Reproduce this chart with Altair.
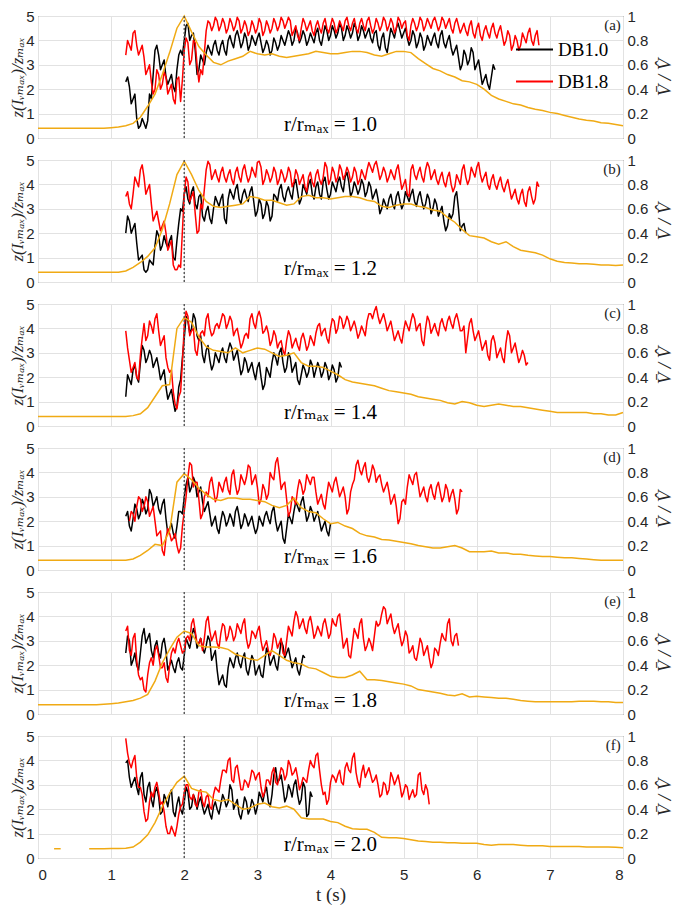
import altair as alt
import numpy as np
import pandas as pd

SERIF = "Liberation Serif, DejaVu Serif, serif"
SANS = "Liberation Sans, Arial, sans-serif"
ORANGE = "#F0AA14"

LETTERS = ["(a)", "(b)", "(c)", "(d)", "(e)", "(f)"]
RATIOS = ["1.0", "1.2", "1.4", "1.6", "1.8", "2.0"]
SERIES = ["DB1.0", "DB1.8"]
X_TICKS = [0, 1, 2, 3, 4, 5, 6, 7, 8]
LEFT_TICKS = [0, 1, 2, 3, 4, 5]
RIGHT_TICKS = [0, 0.2, 0.4, 0.6, 0.8, 1.0]
T_REF = [2.0]
DT = 0.05          # spacing of the main readings
ODT = 0.1          # spacing of the orange readings

BLACK_T0 = [1.20, 1.20, 1.20, 1.20, 1.20, 1.20]
RED_T0 = [1.20, 1.20, 1.20, 1.25, 1.20, 1.20]
ORANGE_T0 = [0.0, 0.0, 0.0, 0.0, 0.0, 0.7]
ORANGE_F_EARLY_T = [0.22, 0.31]
ORANGE_F_EARLY = [0.076, 0.076]

# readings every 0.05 s
BLACK_A = [2.3, 2.1, 1.6, 0.8, 0.5, 0.6, 0.7, 1.6, 3.6, 3.4,
           3.0, 2.5, 2.4, 2.1, 2.8, 3.6, 4.0, 4.7, 4.2, 3.6,
           2.8, 3.2, 3.5, 3.6, 3.8, 3.6, 3.8, 3.6, 4.0, 3.9,
           4.2, 4.1, 3.9, 4.1, 3.8, 4.0, 4.1, 3.9, 3.7, 3.8,
           3.6, 3.9, 3.8, 4.0, 4.1, 4.2, 4.0, 4.3, 4.1, 4.2,
           4.0, 4.1, 4.3, 4.0, 4.2, 4.4, 4.2, 4.4, 4.3, 4.5,
           4.2, 4.4, 4.3, 4.5, 4.2, 4.4, 4.3, 4.1, 4.3, 3.8,
           4.1, 3.7, 4.0, 4.3, 4.5, 4.4, 4.3, 4.1, 4.0, 4.2,
           3.9, 4.1, 3.8, 4.0, 4.1, 3.9, 4.2, 3.9, 4.0, 3.7,
           3.6, 3.3, 3.0, 3.4, 3.2, 3.5, 3.0, 2.7, 2.4, 2.2,
           2.5, 2.8]
RED_A = [3.4, 3.8, 4.3, 3.8, 3.6, 3.3, 2.8, 2.3, 2.0, 2.6,
         2.2, 2.5, 2.0, 1.6, 2.4, 1.5, 3.6, 3.9, 3.2, 3.9,
         2.3, 2.6, 4.4, 4.7, 4.6, 4.8, 4.6, 4.7, 4.5, 4.7,
         4.6, 4.8, 4.5, 4.6, 4.4, 4.6, 4.5, 4.7, 4.4, 4.6,
         4.5, 4.7, 4.6, 4.8, 4.7, 4.8, 4.4, 4.2, 4.5, 4.7,
         4.6, 4.4, 4.6, 4.5, 4.7, 4.5, 4.6, 4.7, 4.5, 4.6,
         4.8, 4.6, 4.7, 4.5, 4.7, 4.6, 4.8, 4.6, 4.5, 4.7,
         4.6, 4.8, 4.6, 4.7, 4.5, 4.8, 4.7, 4.2, 4.6, 4.7,
         4.6, 4.8, 4.6, 4.7, 4.8, 4.7, 4.6, 4.8, 4.7, 4.5,
         4.7, 4.6, 4.5, 4.4, 4.6, 4.3, 4.5, 4.2, 4.4, 4.3,
         4.5, 4.3, 4.4, 4.2, 4.0, 4.2, 3.8, 4.0, 3.8, 4.1,
         4.3, 4.0, 4.2, 3.8]
BLACK_B = [2.0, 2.5, 2.2, 1.6, 1.0, 0.5, 0.5, 0.8, 1.5, 1.9,
           1.5, 1.6, 1.7, 1.0, 1.7, 3.0, 3.6, 3.4, 3.7, 3.2,
           3.5, 2.7, 2.9, 2.6, 3.0, 3.3, 3.4, 2.6, 3.4, 3.6,
           3.8, 3.4, 3.6, 3.5, 3.7, 3.3, 2.9, 3.2, 2.8, 3.1,
           2.7, 3.5, 3.8, 3.5, 3.7, 3.6, 4.0, 3.7, 3.4, 3.8,
           4.0, 3.6, 3.9, 3.6, 4.1, 3.8, 3.6, 3.9, 4.1, 3.9,
           4.3, 4.1, 3.7, 3.9, 3.8, 4.0, 3.7, 3.9, 3.6, 3.4,
           3.0, 3.2, 3.4, 3.2, 3.5, 3.3, 3.2, 3.5, 3.6, 3.3,
           3.5, 3.3, 3.2, 3.4, 3.0, 3.2, 2.9, 2.5, 2.3, 2.6,
           3.5, 3.0, 2.3, 2.0]
RED_B = [3.5, 3.2, 3.6, 4.1, 4.6, 4.3, 3.8, 3.2, 2.7, 2.5,
         2.3, 2.0, 1.5, 0.7, 0.5, 0.6, 3.6, 4.1, 3.5, 2.8,
         2.1, 3.0, 4.6, 4.8, 4.4, 4.3, 4.5, 4.3, 4.4, 4.2,
         4.5, 4.3, 4.6, 4.4, 4.3, 4.5, 4.9, 4.7, 4.2, 4.4,
         4.3, 4.5, 4.2, 4.4, 4.3, 4.5, 4.1, 4.4, 4.2, 3.9,
         4.3, 4.1, 4.4, 4.2, 4.3, 4.7, 4.2, 4.5, 4.3, 4.6,
         4.4, 4.5, 4.3, 4.5, 4.2, 4.4, 4.6, 4.7, 4.8, 4.6,
         4.4, 4.5, 4.3, 4.4, 4.6, 4.3, 4.0, 3.6, 4.6, 4.4,
         4.5, 4.3, 4.6, 4.7, 4.4, 4.2, 4.3, 4.1, 4.3, 4.0,
         3.9, 4.2, 4.6, 4.3, 4.2, 4.5, 4.7, 4.4, 4.3, 4.0,
         4.2, 4.0, 4.1, 3.9, 4.0, 3.8, 3.6, 3.4, 3.6, 3.3,
         3.7, 3.5, 3.4, 3.9]
BLACK_C = [1.2, 1.9, 2.3, 2.0, 2.6, 3.1, 2.8, 2.9, 2.6, 2.4,
           2.1, 1.6, 1.3, 1.0, 0.8, 1.9, 3.6, 4.3, 4.0, 4.4,
           3.5, 2.9, 3.1, 2.7, 2.5, 2.8, 3.0, 2.8, 3.1, 3.2,
           2.9, 2.6, 2.3, 2.6, 2.4, 2.2, 2.4, 2.0, 1.7, 2.2,
           2.6, 2.8, 3.0, 2.6, 2.4, 2.8, 2.4, 1.9, 2.1, 2.3,
           2.2, 2.5, 2.3, 2.4, 2.2, 2.4, 2.1, 2.3, 2.0, 2.4]
RED_C = [3.9, 2.7, 2.4, 2.0, 2.9, 4.2, 3.7, 4.1, 4.4, 3.9,
         3.5, 2.8, 2.2, 1.4, 0.7, 1.4, 4.1, 4.5, 3.9, 3.1,
         3.5, 3.9, 4.4, 4.0, 3.8, 4.2, 4.3, 4.5, 4.2, 4.3,
         3.9, 3.6, 3.4, 3.8, 4.4, 4.2, 4.5, 4.4, 3.9, 3.8,
         3.5, 3.7, 3.4, 3.1, 3.5, 3.7, 3.4, 3.3, 3.6, 3.5,
         3.3, 3.5, 3.8, 4.2, 3.9, 3.6, 4.0, 4.3, 4.0, 4.4,
         4.2, 4.3, 4.1, 4.0, 3.8, 3.9, 4.3, 4.6, 4.7, 4.5,
         4.4, 4.3, 4.1, 3.9, 3.7, 3.6, 3.9, 4.1, 4.3, 4.4,
         4.1, 3.5, 4.0, 4.3, 4.0, 3.9, 4.2, 4.1, 4.3, 4.2,
         4.4, 4.3, 3.9, 3.0, 4.2, 3.9, 3.7, 3.5, 3.3, 2.9,
         3.5, 3.4, 3.0, 2.8, 3.4, 3.7, 3.2, 3.0, 2.8, 2.9,
         2.6]
BLACK_D = [2.2, 1.8, 2.1, 2.5, 2.3, 2.7, 2.5, 3.1, 2.8, 2.5,
           2.7, 2.1, 1.7, 1.5, 1.8, 2.4, 3.0, 3.8, 3.4, 3.6,
           3.2, 2.8, 2.6, 2.3, 2.0, 1.7, 2.0, 2.2, 2.0, 2.1,
           2.4, 2.2, 1.9, 2.1, 2.0, 1.8, 1.7, 2.0, 2.2, 2.1,
           2.4, 2.0, 1.8, 1.3, 1.7, 2.1, 2.4, 2.6, 2.8, 2.5,
           2.2, 2.4, 2.2, 2.0, 1.8, 1.6, 1.9]
RED_D = [2.0, 2.3, 2.6, 2.9, 2.6, 2.8, 2.4, 2.0, 1.5,
         0.8, 1.3, 1.5, 1.3, 1.0, 0.9, 2.4, 3.8, 4.3, 3.6,
         2.9, 2.3, 3.2, 3.6, 3.3, 3.0, 3.4, 3.6, 3.3, 3.9,
         3.5, 3.3, 3.7, 3.8, 4.2, 3.7, 3.4, 2.9, 3.3, 3.1,
         3.8, 4.4, 4.0, 3.5, 2.9, 2.4, 2.9, 3.3, 3.5, 3.3,
         3.7, 3.8, 3.2, 2.9, 2.7, 3.1, 3.4, 3.6, 3.4, 3.2,
         3.0, 2.5, 3.5, 4.3, 4.1, 4.2, 3.8, 3.9, 4.1, 3.8,
         3.5, 3.4, 3.2, 2.9, 2.6, 2.1, 2.9, 3.4, 3.7, 3.9,
         3.5, 3.2, 3.0, 3.3, 3.1, 3.4, 3.2, 3.0, 3.3, 3.1,
         2.9, 2.5, 3.2]
BLACK_E = [2.5, 3.0, 2.2, 2.0, 2.5, 3.5, 3.1, 2.6, 2.8, 2.5,
           2.9, 2.6, 2.0, 1.9, 2.1, 1.9, 2.4, 2.9, 3.1, 3.3,
           2.9, 2.7, 2.8, 3.0, 2.4, 1.8, 1.4, 1.2, 1.9, 2.1,
           2.3, 2.1, 2.3, 1.8, 2.0, 2.2, 1.8, 1.6, 2.1, 2.5,
           2.2, 2.0, 2.4, 2.8, 2.5, 2.3, 2.1, 1.8, 2.0, 2.3]
RED_E = [3.4, 2.6, 3.1, 2.2, 1.4, 1.0, 1.6, 2.3, 2.6, 2.4,
         1.9, 1.5, 2.0, 2.7, 2.9, 2.8, 2.6, 3.2, 3.7, 3.4,
         2.9, 2.6, 3.8, 3.4, 3.2, 2.9, 3.3, 3.6, 3.2, 3.4,
         3.2, 3.5, 3.7, 3.1, 2.9, 3.3, 3.4, 3.0, 2.8, 2.6,
         2.7, 3.1, 2.9, 2.5, 3.0, 3.4, 3.8, 4.0, 3.7, 3.5,
         3.8, 3.6, 3.3, 3.4, 3.7, 3.5, 3.3, 3.7, 4.0, 3.4,
         2.9, 2.4, 2.9, 3.3, 3.7, 3.1, 2.8, 2.9, 3.2, 3.6,
         4.1, 4.3, 3.9, 3.6, 3.5, 3.2, 3.0, 3.2, 2.6, 2.3,
         2.6, 2.9, 2.6, 2.3, 2.1, 2.6, 2.9, 3.1, 3.7, 3.0,
         3.2, 2.8]
BLACK_F = [3.9, 3.3, 3.1, 2.9, 3.3, 2.6, 2.9, 2.4, 2.7, 2.5,
           1.9, 2.4, 2.6, 1.9, 2.2, 2.0, 2.3, 2.7, 2.1, 2.4,
           2.3, 2.1, 2.0, 1.8, 2.1, 2.0, 2.2, 2.4, 2.3, 2.8,
           2.2, 1.8, 2.0, 2.3, 2.0, 2.2, 2.1, 2.5, 2.7, 2.3,
           2.6, 3.7, 3.2, 2.9, 2.5, 2.8, 3.0, 2.6, 2.4, 2.9,
           1.8, 2.5]
RED_F = [4.9, 3.9, 4.0, 3.3, 2.9, 1.9, 1.6, 2.7, 2.9, 2.7,
         2.3, 1.3, 1.0, 1.1, 1.3, 2.1, 2.7, 3.0, 2.4, 2.2,
         2.7, 2.3, 2.5, 2.1, 2.6, 2.8, 3.2, 3.6, 4.0, 3.2,
         3.7, 3.3, 2.8, 3.1, 3.2, 3.5, 3.4, 2.9, 2.7, 3.2,
         3.5, 3.1, 3.3, 3.6, 3.4, 3.8, 3.5, 3.3, 3.0, 3.2,
         3.6, 3.8, 4.2, 3.6, 2.6, 2.2, 3.1, 3.3, 3.4, 3.1,
         3.7, 3.6, 4.1, 3.5, 2.9, 3.8, 3.5, 3.4, 3.2, 3.0,
         2.6, 3.0, 2.8, 3.3, 3.2, 3.0, 2.7, 2.9, 2.6, 2.5,
         3.4, 2.8, 3.0, 2.2]

# readings half way between the ones above (the fast flicker of each trace)
BLACK_A_MID = [2.5, 1.4, 1.8, 0.4, 0.8, 0.4, 1.8, 2.6, 3.8, 2.8,
               3.2, 2.2, 2.6, 1.9, 3.4, 3.4, 4.6, 4.0, 4.3, 2.6,
               3.4, 3.0, 3.8, 3.4, 4.0, 3.4, 4.0, 3.4, 4.2, 3.7,
               4.4, 3.7, 4.3, 3.6, 4.2, 3.8, 4.3, 3.5, 4.0, 3.4,
               4.1, 3.6, 4.2, 3.8, 4.4, 3.8, 4.5, 3.9, 4.4, 3.8,
               4.3, 3.9, 4.5, 3.8, 4.6, 4.0, 4.6, 4.1, 4.7, 4.0,
               4.6, 4.1, 4.7, 4.0, 4.6, 4.1, 4.5, 3.9, 4.4, 3.6,
               4.3, 3.5, 4.5, 4.1, 4.7, 4.1, 4.5, 3.8, 4.4, 3.7,
               4.3, 3.6, 4.2, 3.8, 4.3, 3.7, 4.4, 3.7, 4.2, 3.4,
               3.8, 2.8, 3.6, 3.0, 3.7, 2.8, 3.2, 2.2, 2.6, 2.0,
               3.0]
RED_A_MID = [4.0, 3.6, 4.4, 3.4, 3.8, 2.6, 3.0, 1.8, 2.8, 2.0,
             2.7, 1.8, 2.2, 1.4, 2.5, 2.4, 4.1, 3.0, 4.0, 3.0,
             2.8, 3.5, 4.8, 4.4, 4.95, 4.4, 4.9, 4.3, 4.9, 4.4,
             4.95, 4.3, 4.8, 4.2, 4.8, 4.3, 4.9, 4.2, 4.8, 4.3,
             4.9, 4.4, 4.95, 4.5, 4.95, 4.2, 4.6, 4.0, 4.9, 4.4,
             4.8, 4.2, 4.8, 4.3, 4.9, 4.3, 4.9, 4.3, 4.8, 4.4,
             4.95, 4.4, 4.9, 4.3, 4.9, 4.4, 4.95, 4.3, 4.9, 4.4,
             4.95, 4.4, 4.9, 4.3, 4.95, 4.5, 4.8, 4.0, 4.9, 4.4,
             4.95, 4.4, 4.9, 4.5, 4.95, 4.4, 4.95, 4.5, 4.9, 4.3,
             4.9, 4.3, 4.7, 4.2, 4.8, 4.1, 4.7, 4.0, 4.6, 4.1,
             4.7, 4.1, 4.6, 3.8, 4.4, 3.6, 4.2, 3.6, 4.3, 3.9,
             4.5, 3.8, 4.4]
BLACK_B_MID = [2.7, 2.0, 2.4, 0.9, 1.1, 0.4, 0.9, 0.7, 2.1, 1.3,
               1.9, 1.4, 1.9, 0.9, 2.4, 2.9, 3.9, 3.2, 3.9, 3.0,
               3.6, 2.5, 3.1, 2.4, 3.5, 3.1, 3.6, 2.4, 3.8, 3.4,
               4.0, 3.2, 3.8, 3.3, 3.9, 2.7, 3.4, 2.6, 3.3, 2.5,
               3.6, 3.3, 4.0, 3.3, 3.9, 3.4, 4.2, 3.2, 4.0, 3.6,
               4.2, 3.4, 4.1, 3.4, 4.3, 3.4, 4.1, 3.7, 4.3, 3.7,
               4.5, 3.5, 4.1, 3.6, 4.2, 3.5, 4.1, 3.4, 3.8, 2.8,
               3.4, 3.0, 3.6, 3.0, 3.7, 3.0, 3.7, 3.3, 3.8, 3.1,
               3.7, 3.0, 3.6, 2.8, 3.4, 2.7, 3.1, 2.1, 2.8, 2.8,
               3.7, 2.1, 2.4]
RED_B_MID = [3.7, 3.0, 4.3, 3.9, 4.8, 3.6, 4.0, 2.5, 2.9, 2.1,
             2.5, 1.3, 1.7, 0.5, 0.7, 2.1, 4.3, 3.3, 3.7, 2.0,
             3.2, 3.8, 4.95, 4.2, 4.6, 4.1, 4.7, 4.1, 4.6, 4.0,
             4.7, 4.1, 4.8, 4.1, 4.7, 4.3, 4.95, 4.0, 4.6, 4.1,
             4.7, 4.0, 4.6, 4.1, 4.7, 3.9, 4.6, 4.0, 4.4, 3.7,
             4.5, 3.9, 4.6, 4.0, 4.9, 4.0, 4.7, 4.1, 4.8, 4.2,
             4.7, 4.1, 4.7, 4.0, 4.6, 4.2, 4.9, 4.5, 4.95, 4.2,
             4.7, 4.1, 4.6, 4.2, 4.8, 3.8, 4.2, 3.5, 4.8, 4.2,
             4.7, 4.1, 4.9, 4.2, 4.6, 4.0, 4.5, 3.9, 4.5, 3.7,
             4.4, 4.0, 4.8, 4.0, 4.7, 4.3, 4.9, 4.1, 4.5, 3.8,
             4.4, 3.8, 4.3, 3.7, 4.2, 3.4, 3.8, 3.2, 3.8, 3.1,
             3.9, 3.2, 4.1]
BLACK_C_MID = [2.1, 1.7, 2.5, 1.8, 3.3, 2.6, 3.1, 2.4, 2.8, 1.9,
               2.3, 1.1, 1.5, 0.6, 1.6, 2.8, 4.5, 3.8, 4.6, 3.7,
               3.7, 2.6, 3.3, 2.3, 3.0, 2.6, 3.2, 2.6, 3.4, 2.7,
               3.1, 2.1, 2.8, 2.2, 2.6, 1.9, 2.6, 1.5, 2.4, 2.0,
               3.0, 2.5, 3.2, 2.2, 3.0, 2.2, 2.6, 1.7, 2.5, 2.0,
               2.7, 2.0, 2.6, 2.0, 2.6, 1.9, 2.5, 1.8, 2.6]
RED_C_MID = [3.2, 2.2, 2.6, 1.9, 3.6, 3.5, 4.3, 3.8, 4.6, 3.3,
             3.7, 2.4, 2.3, 0.9, 1.2, 2.6, 4.7, 3.7, 4.0, 2.9,
             3.8, 3.7, 4.6, 3.7, 4.1, 4.0, 4.6, 4.0, 4.5, 3.7,
             4.0, 3.2, 3.7, 3.6, 4.6, 4.0, 4.7, 3.8, 4.1, 3.3,
             3.9, 3.2, 3.5, 2.9, 3.9, 3.2, 3.6, 3.1, 3.8, 3.1,
             3.7, 3.3, 4.1, 3.7, 4.0, 3.4, 4.4, 3.8, 4.5, 4.0,
             4.5, 3.9, 4.3, 3.6, 4.1, 3.7, 4.6, 4.4, 4.9, 4.2,
             4.6, 3.9, 4.3, 3.5, 3.9, 3.4, 4.3, 3.9, 4.6, 3.9,
             4.2, 3.3, 4.5, 3.8, 4.2, 3.7, 4.4, 3.9, 4.5, 4.0,
             4.6, 3.9, 4.1, 3.6, 4.4, 3.5, 3.9, 3.1, 3.5, 2.7,
             3.7, 2.8, 3.2, 2.6, 3.9, 3.0, 3.4, 2.6, 3.1, 2.5]
BLACK_D_MID = [2.4, 1.6, 2.7, 2.1, 2.9, 2.3, 3.3, 2.6, 3.0, 2.3,
               2.9, 1.5, 1.9, 1.3, 2.4, 2.3, 3.5, 3.2, 3.8, 3.0,
               3.4, 2.4, 2.8, 1.8, 2.2, 1.5, 2.4, 1.8, 2.3, 1.8,
               2.6, 1.7, 2.3, 1.8, 2.2, 1.5, 2.2, 1.8, 2.4, 1.9,
               2.6, 1.6, 2.0, 1.1, 2.3, 1.9, 2.8, 2.4, 3.0, 2.0,
               2.6, 2.0, 2.4, 1.6, 2.0, 1.4]
RED_D_MID = [2.4, 2.0, 3.0, 2.4, 3.0, 2.2, 2.6, 1.4, 1.6, 0.6,
             1.7, 1.2, 1.5, 0.7, 1.8, 3.0, 4.4, 3.4, 3.6, 2.1,
             3.0, 3.0, 3.8, 2.8, 3.6, 3.2, 3.8, 3.1, 4.1, 3.1,
             3.9, 3.5, 4.3, 3.5, 3.9, 2.7, 3.5, 2.9, 4.0, 3.7,
             4.6, 3.3, 3.6, 2.2, 3.0, 2.7, 3.7, 3.1, 3.9, 3.5,
             3.8, 2.7, 3.1, 2.5, 3.6, 3.2, 3.8, 3.0, 3.4, 2.3,
             3.2, 3.7, 4.5, 3.9, 4.4, 3.6, 4.3, 3.6, 3.9, 3.2,
             3.6, 2.7, 3.1, 1.9, 2.8, 2.7, 3.9, 3.5, 4.0, 3.0,
             3.4, 2.8, 3.5, 2.9, 3.6, 2.8, 3.5, 2.8, 3.3, 2.3,
             3.3]
BLACK_E_MID = [3.2, 2.0, 2.5, 1.8, 3.2, 2.9, 3.3, 2.3, 3.0, 2.3,
               3.1, 1.8, 2.2, 1.7, 2.3, 1.8, 3.1, 2.7, 3.5, 2.7,
               3.1, 2.5, 3.2, 2.2, 2.6, 1.2, 1.6, 1.1, 2.3, 1.9,
               2.5, 1.9, 2.5, 1.6, 2.4, 1.6, 2.0, 1.5, 2.7, 2.0,
               2.4, 1.8, 3.0, 2.3, 2.7, 1.9, 2.3, 1.6, 2.4]
RED_E_MID = [3.6, 2.4, 3.3, 1.6, 1.5, 0.9, 2.1, 2.0, 2.8, 1.9,
             2.1, 1.3, 2.5, 2.5, 3.1, 2.5, 3.1, 3.0, 3.9, 2.9,
             3.1, 3.1, 4.0, 3.0, 3.4, 2.7, 3.7, 3.0, 3.6, 3.0,
             3.7, 3.3, 3.9, 2.7, 3.4, 3.1, 3.6, 2.6, 3.0, 2.4,
             3.3, 2.7, 3.1, 2.4, 3.6, 3.2, 4.2, 3.5, 3.9, 3.3,
             4.0, 3.1, 3.6, 3.2, 3.9, 3.1, 3.9, 3.6, 4.1, 2.7,
             3.1, 2.3, 3.5, 3.1, 3.9, 2.6, 3.1, 2.6, 3.8, 3.7,
             4.4, 3.7, 4.1, 3.3, 3.7, 2.8, 3.4, 2.5, 2.8, 2.2,
             3.1, 2.4, 2.8, 1.9, 2.7, 2.4, 3.3, 3.0, 3.9, 2.8,
             3.3]
BLACK_F_MID = [4.0, 2.9, 3.3, 2.6, 3.5, 2.3, 3.1, 2.1, 2.9, 1.8,
               2.6, 2.1, 2.8, 1.7, 2.5, 1.8, 2.9, 2.0, 2.6, 2.0,
               2.5, 1.8, 2.2, 1.6, 2.3, 1.8, 2.6, 2.1, 3.0, 2.0,
               2.4, 1.6, 2.5, 1.8, 2.4, 1.8, 2.7, 2.3, 2.9, 2.1,
               3.4, 3.1, 3.4, 2.3, 3.0, 2.5, 3.2, 2.2, 3.1, 1.7,
               2.7]
RED_F_MID = [4.3, 3.7, 4.2, 2.9, 2.6, 1.5, 2.3, 2.5, 3.1, 2.2,
             1.9, 1.0, 1.3, 0.9, 1.8, 2.2, 3.0, 2.5, 2.6, 2.1,
             2.8, 2.1, 2.6, 2.0, 2.9, 2.7, 3.6, 3.5, 4.1, 3.1,
             3.8, 2.8, 3.2, 2.9, 3.6, 3.2, 3.5, 2.5, 3.2, 3.0,
             3.7, 3.0, 3.7, 3.2, 4.0, 3.4, 3.7, 2.8, 3.3, 3.1,
             4.0, 3.7, 4.3, 3.0, 2.7, 2.4, 3.4, 3.1, 3.6, 3.0,
             3.9, 3.5, 4.3, 3.1, 3.5, 3.3, 3.7, 3.1, 3.4, 2.5,
             3.1, 2.6, 3.5, 3.0, 3.4, 2.5, 3.0, 2.4, 2.8, 2.6,
             3.5, 2.6, 2.8]

ORANGE_A = [0.08, 0.08, 0.08, 0.08, 0.08, 0.08, 0.08, 0.08, 0.08, 0.08, 0.085,
            0.09, 0.10, 0.12, 0.17, 0.26, 0.36, 0.52, 0.70, 0.90, 1.00,
            0.87, 0.75, 0.68, 0.62, 0.60, 0.63, 0.65, 0.67, 0.71, 0.69,
            0.68, 0.69, 0.67, 0.66, 0.67, 0.68, 0.69, 0.71, 0.70, 0.69,
            0.69, 0.70, 0.71, 0.71, 0.70, 0.68, 0.67, 0.69, 0.71, 0.71,
            0.70, 0.65, 0.61, 0.57, 0.55, 0.52, 0.50, 0.47, 0.46, 0.44,
            0.40, 0.35, 0.32, 0.30, 0.28, 0.27, 0.25, 0.235, 0.225, 0.21,
            0.20, 0.185, 0.17, 0.155, 0.145, 0.14, 0.125, 0.12, 0.11, 0.10]
ORANGE_B = [0.08, 0.08, 0.08, 0.08, 0.08, 0.08, 0.08, 0.08, 0.08, 0.08, 0.08, 0.08,
            0.09, 0.12, 0.16, 0.21, 0.28, 0.43, 0.64, 0.88, 0.99,
            0.88, 0.75, 0.66, 0.62, 0.61, 0.62, 0.63, 0.64, 0.70, 0.69,
            0.67, 0.67, 0.65, 0.63, 0.64, 0.70, 0.71, 0.69, 0.69, 0.68,
            0.69, 0.70, 0.70, 0.69, 0.67, 0.66, 0.62, 0.61, 0.63, 0.64,
            0.64, 0.62, 0.61, 0.59, 0.58, 0.53, 0.49, 0.43, 0.38, 0.37,
            0.36, 0.33, 0.31, 0.33, 0.29, 0.26, 0.25, 0.24, 0.22, 0.19,
            0.17, 0.16, 0.155, 0.15, 0.15, 0.145, 0.14, 0.14, 0.135, 0.14]
ORANGE_C = [0.077, 0.077, 0.077, 0.077, 0.077, 0.077, 0.077, 0.077, 0.077, 0.077, 0.077, 0.077, 0.077,
            0.085, 0.10, 0.15, 0.24, 0.33, 0.34, 0.80, 0.89,
            0.85, 0.73, 0.65, 0.62, 0.61, 0.60, 0.64, 0.60, 0.62, 0.64,
            0.63, 0.60, 0.57, 0.58, 0.60, 0.52, 0.49, 0.49, 0.48, 0.45,
            0.42, 0.38, 0.36, 0.35, 0.34, 0.33, 0.31, 0.29, 0.28, 0.27,
            0.26, 0.24, 0.23, 0.22, 0.21, 0.19, 0.18, 0.20, 0.19, 0.17,
            0.16, 0.17, 0.18, 0.17, 0.16, 0.16, 0.15, 0.14, 0.13, 0.12,
            0.11, 0.11, 0.11, 0.11, 0.11, 0.10, 0.10, 0.09, 0.09, 0.11]
ORANGE_D = [0.08, 0.08, 0.08, 0.08, 0.08, 0.08, 0.08, 0.08, 0.08, 0.08, 0.08, 0.08, 0.08,
            0.09, 0.12, 0.16, 0.21, 0.20, 0.32, 0.72, 0.79,
            0.74, 0.67, 0.62, 0.58, 0.57, 0.59, 0.59, 0.58, 0.58, 0.57,
            0.56, 0.53, 0.51, 0.53, 0.59, 0.51, 0.48, 0.47, 0.42, 0.38,
            0.39, 0.36, 0.34, 0.30, 0.28, 0.27, 0.25, 0.245, 0.235, 0.225,
            0.215, 0.20, 0.19, 0.18, 0.18, 0.19, 0.20, 0.18, 0.15, 0.15,
            0.15, 0.155, 0.14, 0.14, 0.13, 0.13, 0.12, 0.115, 0.11, 0.11,
            0.105, 0.10, 0.10, 0.095, 0.09, 0.085, 0.08, 0.08, 0.08, 0.08]
ORANGE_E = [0.076, 0.076, 0.076, 0.076, 0.076, 0.076, 0.076, 0.076, 0.076,
            0.08, 0.085, 0.09, 0.10, 0.11, 0.13, 0.16, 0.27, 0.42, 0.53, 0.63, 0.68,
            0.66, 0.56, 0.55, 0.55, 0.545, 0.53, 0.49, 0.47, 0.45, 0.44,
            0.48, 0.52, 0.48, 0.44, 0.42, 0.41, 0.38, 0.37, 0.34, 0.31,
            0.30, 0.30, 0.32, 0.35, 0.28, 0.28, 0.275, 0.265, 0.255, 0.245,
            0.23, 0.20, 0.19, 0.18, 0.17, 0.155, 0.15, 0.165, 0.14, 0.145,
            0.14, 0.135, 0.13, 0.13, 0.12, 0.11, 0.105, 0.10, 0.10, 0.10,
            0.10, 0.10, 0.10, 0.105, 0.105, 0.105, 0.10, 0.10, 0.095, 0.095]
ORANGE_F = [0.076, 0.076, 0.076, 0.078,
            0.078, 0.08, 0.09, 0.13, 0.19, 0.29, 0.42, 0.53, 0.62, 0.67,
            0.57, 0.55, 0.54, 0.48, 0.465, 0.48, 0.44, 0.40, 0.41, 0.44,
            0.45, 0.42, 0.41, 0.425, 0.40, 0.33, 0.32, 0.32, 0.32, 0.30,
            0.29, 0.26, 0.24, 0.235, 0.235, 0.21, 0.17, 0.165, 0.165, 0.16,
            0.15, 0.14, 0.135, 0.13, 0.13, 0.125, 0.125, 0.12, 0.12, 0.12,
            0.11, 0.105, 0.11, 0.11, 0.11, 0.105, 0.10, 0.10, 0.10, 0.095,
            0.095, 0.095, 0.095, 0.095, 0.09, 0.09, 0.09, 0.09, 0.088, 0.085]

BLACK = [BLACK_A, BLACK_B, BLACK_C, BLACK_D, BLACK_E, BLACK_F]
RED = [RED_A, RED_B, RED_C, RED_D, RED_E, RED_F]
BLACK_MID = [BLACK_A_MID, BLACK_B_MID, BLACK_C_MID, BLACK_D_MID, BLACK_E_MID, BLACK_F_MID]
RED_MID = [RED_A_MID, RED_B_MID, RED_C_MID, RED_D_MID, RED_E_MID, RED_F_MID]
ORANGES = [ORANGE_A, ORANGE_B, ORANGE_C, ORANGE_D, ORANGE_E, ORANGE_F]

# annotation anchors (in data units)
LABEL_T, LABEL_V = 4.0, 0.55
LETTER_T, LETTER_V = 7.97, 4.62

LEFT_TITLE = "z(Iᵥₘₐₓ)/zₘₐₓ"
RIGHT_TITLE = "V\u0304 / V\u0302"

W, H = 585, 122


def series_df(vals, mids, t0, name):
    ts, vs = [], []
    n = len(vals)
    for k in range(n):
        ts.append(t0 + DT * k)
        vs.append(vals[k])
        if k < n - 1 and k < len(mids):
            ts.append(t0 + DT * k + DT / 2)
            vs.append(mids[k])
    return pd.DataFrame({"t": np.round(ts, 4), "v": vs, "series": name})


def orange_df(i):
    vals = ORANGES[i]
    t = np.round(ORANGE_T0[i] + ODT * np.arange(len(vals)), 3)
    df = pd.DataFrame({"t": t, "o": vals, "seg": "main"})
    if i == 5:
        early = pd.DataFrame({"t": ORANGE_F_EARLY_T, "o": ORANGE_F_EARLY, "seg": "early"})
        df = pd.concat([early, df], ignore_index=True)
    return df


legend = alt.Legend(
    title=None, orient="none", legendX=477, legendY=14,
    symbolType="stroke", symbolSize=1369, symbolStrokeWidth=2,
    labelFont=SERIF, labelFontSize=19, labelColor="#000000",
    labelOffset=4, rowPadding=2, padding=0,
)


def make_panel(i):
    last = i == 5
    xaxis = alt.Axis(
        values=X_TICKS, grid=True, ticks=False, domain=False,
        labels=last, labelPadding=9, labelFont=SANS, labelFontSize=15,
        labelColor="#262626", format="d",
        title="t (s)" if last else None, titleFont=SERIF, titleFontSize=19,
        titleFontWeight="normal", titlePadding=3, titleColor="#262626",
    )
    x = alt.X("t:Q", scale=alt.Scale(domain=[0, 8], nice=False), axis=xaxis)
    lines_df = pd.concat([
        series_df(BLACK[i], BLACK_MID[i], BLACK_T0[i], SERIES[0]),
        series_df(RED[i], RED_MID[i], RED_T0[i], SERIES[1]),
    ], ignore_index=True)
    left_scale = alt.Scale(domain=[0, 5], nice=False)
    lines = alt.Chart(lines_df).mark_line(strokeWidth=1.5, strokeJoin="round").encode(
        x=x,
        y=alt.Y("v:Q", scale=left_scale, axis=alt.Axis(
            values=LEFT_TICKS, grid=True, ticks=False, domain=False, format="d",
            labelFont=SANS, labelFontSize=15, labelColor="#262626", labelPadding=4,
            title=LEFT_TITLE, titleFont=SERIF, titleFontSize=17, titleFontStyle="italic",
            titleFontWeight="normal", titlePadding=-1, titleColor="#262626",
        )),
        color=alt.Color("series:N", scale=alt.Scale(domain=SERIES, range=["#000000", "#ff0000"]),
                        legend=legend),
    )
    orange = alt.Chart(orange_df(i)).mark_line(color=ORANGE, strokeWidth=1.5).encode(
        x="t:Q",
        y=alt.Y("o:Q", scale=alt.Scale(domain=[0, 1], nice=False), axis=alt.Axis(
            orient="right", values=RIGHT_TICKS, grid=False, ticks=False, domain=False,
            format="~g", labelFont=SANS, labelFontSize=15, labelColor="#262626", labelPadding=4,
            title=RIGHT_TITLE, titleFont=SERIF, titleFontSize=19, titleFontStyle="italic",
            titleFontWeight="normal", titleAngle=270, titleBaseline="top", titlePadding=8,
            titleColor="#262626",
        )),
        detail="seg:N",
    )
    rule = alt.Chart(pd.DataFrame({"t": T_REF})).mark_rule(
        color="#555555", strokeDash=[2, 2], strokeWidth=1.4
    ).encode(x="t:Q")
    lab = alt.Chart(pd.DataFrame({"t": [LABEL_T], "v": [LABEL_V],
                                  "s": ["r/rₘₐₓ = " + RATIOS[i]]})).mark_text(
        font=SERIF, fontSize=21, align="center", baseline="middle", color="#000000"
    ).encode(x="t:Q", y=alt.Y("v:Q", scale=left_scale, axis=None), text="s:N")
    let = alt.Chart(pd.DataFrame({"t": [LETTER_T], "v": [LETTER_V], "s": [LETTERS[i]]})).mark_text(
        font=SERIF, fontSize=15, align="right", baseline="middle", color="#222222"
    ).encode(x="t:Q", y=alt.Y("v:Q", scale=left_scale, axis=None), text="s:N")
    return alt.layer(lines, orange, rule, lab, let).resolve_scale(y="independent").properties(
        width=W, height=H
    )


chart = alt.vconcat(*[make_panel(i) for i in range(6)], spacing=22, bounds="flush").properties(
    padding={"left": 0, "top": 0, "right": 0, "bottom": 0},
    background="white",
).configure_view(stroke="#3a3a3a", strokeWidth=1).configure_axis(
    gridColor="#e2e2e2", gridWidth=1
)

chart.save("out.html", embed_options={"renderer": "svg", "actions": False})
